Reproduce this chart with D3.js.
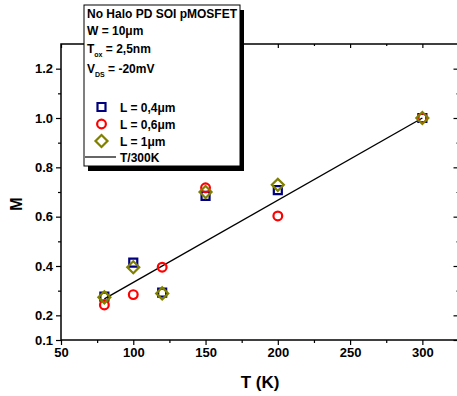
<!DOCTYPE html>
<html><head><meta charset="utf-8">
<script src="https://cdn.jsdelivr.net/npm/d3@7"></script>
<style>body{margin:0;background:#fff}svg{display:block}text{font-family:"Liberation Sans",Arial,sans-serif;font-weight:bold}</style>
</head><body>
<script>
const temps = [80, 100, 120, 150, 200, 300];
const mL04 = [0.276, 0.414, 0.292, 0.684, 0.708, 1.0];
const mL06 = [0.242, 0.284, 0.395, 0.717, 0.603, 1.0];
const mL1  = [0.273, 0.395, 0.289, 0.700, 0.729, 1.0];
const fitT = [80, 300];
const fitM = [80/300, 1.0];
const xTicks = [50, 100, 150, 200, 250, 300];
const yTicks = [0.1, 0.2, 0.4, 0.6, 0.8, 1.0, 1.2];
const xMinor = [75, 125, 175, 225, 275, 325];
const yMinor = [0.3, 0.5, 0.7, 0.9, 1.1];

const W = 457, H = 396;
const svg = d3.select("body").append("svg").attr("width", W).attr("height", H);
const x = d3.scaleLinear().domain([50, 325]).range([61, 458.5]);
const y = d3.scaleLinear().domain([0.1, 1.3]).range([340, 44]);

const g = svg.append("g");
// frame
g.append("rect").attr("x", x(50)).attr("y", y(1.3)).attr("width", x(325) - x(50)).attr("height", y(0.1) - y(1.3))
  .attr("fill", "none").attr("stroke", "#000").attr("stroke-width", 1.5);

// bottom axis
const bx = g.append("g").attr("transform", `translate(0,${y(0.1)})`)
  .call(d3.axisBottom(x).tickValues(xTicks).tickSize(5).tickPadding(3).tickFormat(d3.format("d")));
bx.select(".domain").remove();
bx.selectAll("text").attr("font-size", 13).attr("font-family", '"Liberation Sans",Arial,sans-serif').attr("font-weight", "bold");
g.append("g").attr("transform", `translate(0,${y(0.1)})`)
  .call(d3.axisBottom(x).tickValues(xMinor).tickSize(3).tickFormat("")).select(".domain").remove();
// top axis (inward)
g.append("g").attr("transform", `translate(0,${y(1.3)})`)
  .call(d3.axisBottom(x).tickValues(xTicks).tickSize(4).tickFormat("")).select(".domain").remove();
g.append("g").attr("transform", `translate(0,${y(1.3)})`)
  .call(d3.axisBottom(x).tickValues(xMinor).tickSize(2).tickFormat("")).select(".domain").remove();

// left axis
const ly = g.append("g").attr("transform", `translate(${x(50)},0)`)
  .call(d3.axisLeft(y).tickValues(yTicks).tickSize(5).tickPadding(3).tickFormat(d3.format(".1f")));
ly.select(".domain").remove();
ly.selectAll("text").attr("font-size", 13).attr("font-family", '"Liberation Sans",Arial,sans-serif').attr("font-weight", "bold");
g.append("g").attr("transform", `translate(${x(50)},0)`)
  .call(d3.axisLeft(y).tickValues(yMinor).tickSize(3).tickFormat("")).select(".domain").remove();
// right axis inward
g.append("g").attr("transform", `translate(${x(325)},0)`)
  .call(d3.axisLeft(y).tickValues(yTicks).tickSize(5).tickFormat("")).select(".domain").remove();
g.append("g").attr("transform", `translate(${x(325)},0)`)
  .call(d3.axisLeft(y).tickValues(yMinor).tickSize(2).tickFormat("")).select(".domain").remove();
g.selectAll(".tick line").attr("stroke-width", 1.2);

// axis titles
svg.append("text").attr("x", 260).attr("y", 388).attr("text-anchor", "middle").attr("font-size", 17).text("T (K)");
svg.append("text").attr("transform", "translate(22,204) rotate(-90)").attr("text-anchor", "middle").attr("font-size", 16).text("M");

// fit line
const line = d3.line().x(d => x(d[0])).y(d => y(d[1]));
svg.append("path").datum(d3.zip(fitT, fitM)).attr("d", line).attr("fill", "none").attr("stroke", "#000").attr("stroke-width", 1.4);

// markers
const sq = d3.symbol().type(d3.symbolSquare).size(64)();
const di = d3.symbol().type(d3.symbolSquare).size(72)();
function drawSeries(vals, kind, color) {
  const sel = svg.append("g").selectAll("path").data(d3.zip(temps, vals)).join("path")
    .attr("fill", "none").attr("stroke", color).attr("stroke-width", 2.2);
  if (kind === "sq") sel.attr("d", sq).attr("transform", d => `translate(${x(d[0])},${y(d[1])})`);
  if (kind === "ci") sel.attr("d", d3.symbol().type(d3.symbolCircle).size(60)()).attr("transform", d => `translate(${x(d[0])},${y(d[1])})`);
  if (kind === "di") sel.attr("d", di).attr("transform", d => `translate(${x(d[0])},${y(d[1])}) rotate(45)`);
}
drawSeries(mL04, "sq", "#000080");
drawSeries(mL06, "ci", "#ff0000");
drawSeries(mL1, "di", "#808000");

// legend box
const lg = svg.append("g");
lg.append("rect").attr("x", 88).attr("y", 10).attr("width", 156).attr("height", 161).attr("fill", "#000");
lg.append("rect").attr("x", 84).attr("y", 5).attr("width", 156).attr("height", 161).attr("fill", "#fff").attr("stroke", "#000").attr("stroke-width", 1);
const tx = 87;
lg.append("text").attr("x", tx).attr("y", 18).attr("font-size", 12).text("No Halo PD SOI pMOSFET");
lg.append("text").attr("x", tx).attr("y", 35).attr("font-size", 12).text("W = 10μm");
const t3 = lg.append("text").attr("x", tx).attr("y", 53).attr("font-size", 12);
t3.append("tspan").text("T");
t3.append("tspan").attr("font-size", 7).attr("dy", 4).text("ox");
t3.append("tspan").attr("dy", -4).text(" = 2,5nm");
const t4 = lg.append("text").attr("x", tx).attr("y", 73).attr("font-size", 12);
t4.append("tspan").text("V");
t4.append("tspan").attr("font-size", 7).attr("dy", 4).text("DS");
t4.append("tspan").attr("dy", -4).text(" = -20mV");

const legItems = ["L = 0,4μm", "L = 0,6μm", "L = 1μm", "T/300K"];
const legY = [107, 124, 141, 157];
lg.append("path").attr("d", sq).attr("transform", `translate(101.5,${legY[0]})`).attr("fill", "none").attr("stroke", "#000080").attr("stroke-width", 2.2);
lg.append("path").attr("d", d3.symbol().type(d3.symbolCircle).size(60)()).attr("transform", `translate(101.5,${legY[1]})`).attr("fill", "none").attr("stroke", "#ff0000").attr("stroke-width", 2.2);
lg.append("path").attr("d", di).attr("transform", `translate(101.5,${legY[2]}) rotate(45)`).attr("fill", "none").attr("stroke", "#808000").attr("stroke-width", 2.2);
lg.append("line").attr("x1", 85).attr("x2", 116).attr("y1", legY[3]).attr("y2", legY[3]).attr("stroke", "#000").attr("stroke-width", 1.2);
legItems.forEach((t, i) => {
  lg.append("text").attr("x", 120).attr("y", legY[i] + 4.5).attr("font-size", 12).text(t);
});
</script>
</body></html>
